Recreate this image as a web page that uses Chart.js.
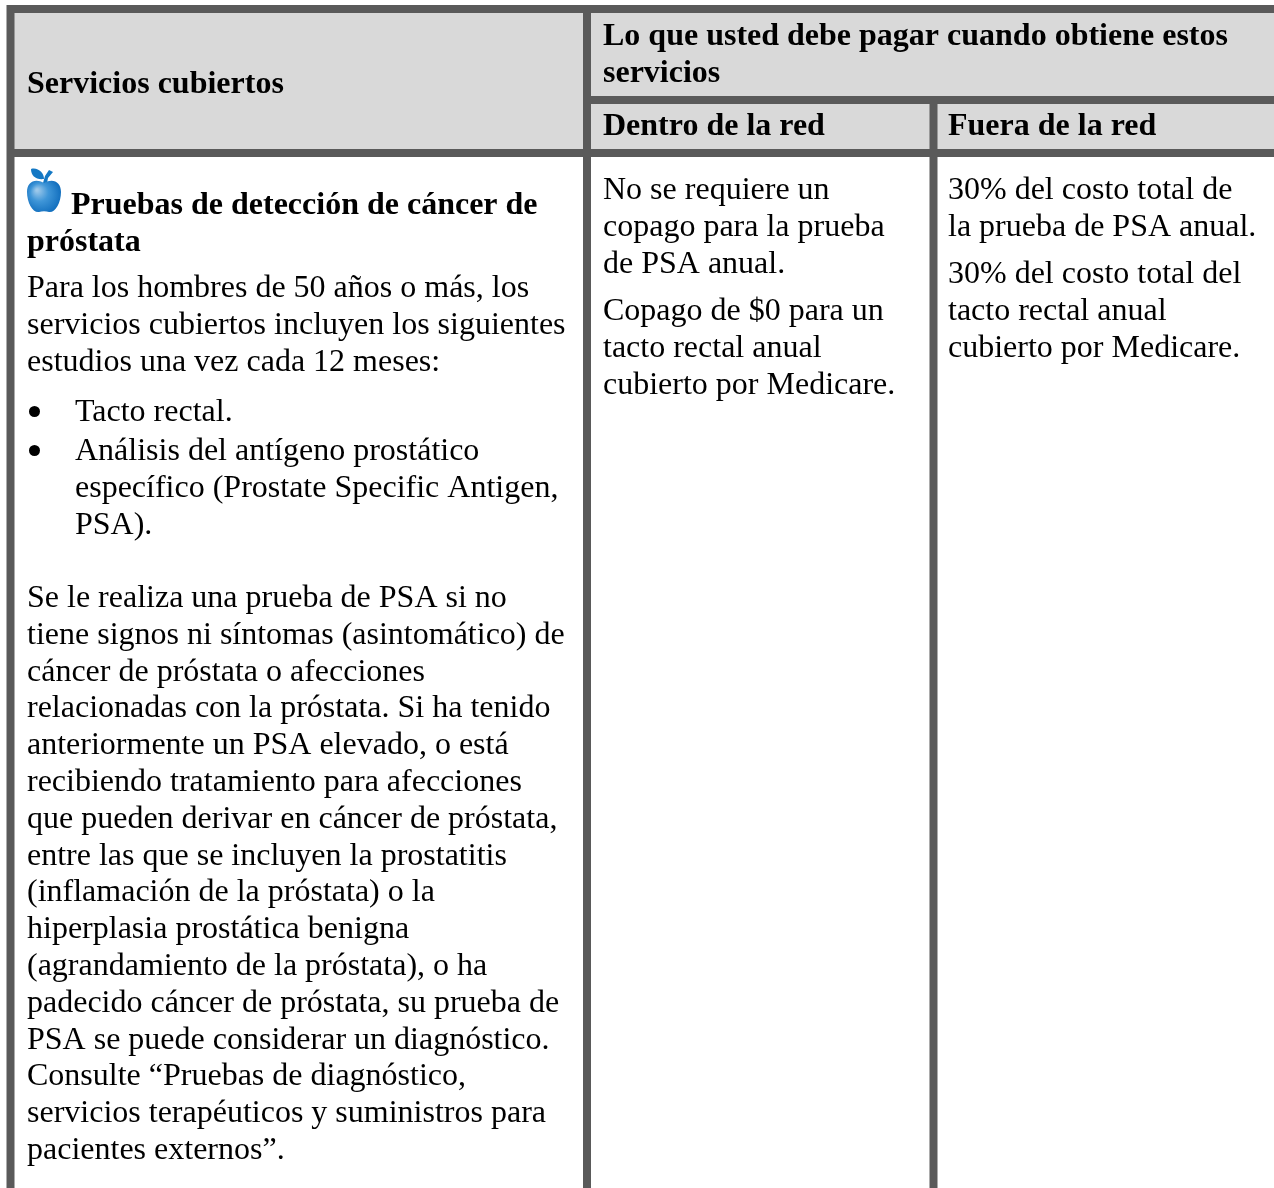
<!DOCTYPE html>
<html>
<head>
<meta charset="utf-8">
<style>
  html, body { margin: 0; padding: 0; background: #fff; }
  canvas { display: block; }
</style>
<script src="https://cdn.jsdelivr.net/npm/chart.js@4"></script>
</head>
<body>
<canvas id="chart" width="1274" height="1188"></canvas>
<script>
// table text, line by line
const headServices = ['Servicios cubiertos'];
const headPay = ['Lo que usted debe pagar cuando obtiene estos', 'servicios'];
const headIn = ['Dentro de la red'];
const headOut = ['Fuera de la red'];
const prostateTitle = ['Pruebas de detección de cáncer de'];
const prostateTitle2 = ['próstata'];
const intro = ['Para los hombres de 50 años o más, los', 'servicios cubiertos incluyen los siguientes', 'estudios una vez cada 12 meses:'];
const bullet1 = ['Tacto rectal.'];
const bullet2 = ['Análisis del antígeno prostático', 'específico (Prostate Specific Antigen,', 'PSA).'];
const psaText = [
  'Se le realiza una prueba de PSA si no',
  'tiene signos ni síntomas (asintomático) de',
  'cáncer de próstata o afecciones',
  'relacionadas con la próstata. Si ha tenido',
  'anteriormente un PSA elevado, o está',
  'recibiendo tratamiento para afecciones',
  'que pueden derivar en cáncer de próstata,',
  'entre las que se incluyen la prostatitis',
  '(inflamación de la próstata) o la',
  'hiperplasia prostática benigna',
  '(agrandamiento de la próstata), o ha',
  'padecido cáncer de próstata, su prueba de',
  'PSA se puede considerar un diagnóstico.',
  'Consulte “Pruebas de diagnóstico,',
  'servicios terapéuticos y suministros para',
  'pacientes externos”.'
];
const inNet1 = ['No se requiere un', 'copago para la prueba', 'de PSA anual.'];
const inNet2 = ['Copago de $0 para un', 'tacto rectal anual', 'cubierto por Medicare.'];
const outNet1 = ['30% del costo total de', 'la prueba de PSA anual.'];
const outNet2 = ['30% del costo total del', 'tacto rectal anual', 'cubierto por Medicare.'];

const W = 1274, H = 1188;
const grey = '#5a5a5a', headFill = '#d9d9d9';
const BORDER = 8;
const STEP = 36.8;
const SERIF = '"Liberation Serif"';

// [lines, left, first baseline, bold]
const blocks = [
  [headServices, 27, 93, true],
  [headPay, 603, 45, true],
  [headIn, 603, 135, true],
  [headOut, 948, 135, true],
  [prostateTitle, 71, 214, true],
  [prostateTitle2, 27, 251, true],
  [intro, 27, 297, false],
  [bullet1, 75, 421, false],
  [bullet2, 75, 460, false],
  [psaText, 27, 607, false],
  [inNet1, 603, 199, false],
  [inNet2, 603, 320, false],
  [outNet1, 948, 199, false],
  [outNet2, 948, 283, false]
];

function apple() {
  const c = document.createElement('canvas');
  c.width = 36; c.height = 46;
  const g = c.getContext('2d');
  g.fillStyle = '#1478c4';
  // leaf
  g.beginPath(); g.moveTo(5, 1); g.bezierCurveTo(12, -1, 18, 5, 18, 11); g.bezierCurveTo(10, 12, 5, 8, 5, 1); g.fill();
  // stem
  g.beginPath(); g.moveTo(17, 15); g.lineTo(19, 8); g.lineTo(23, 2); g.lineTo(27, 4); g.lineTo(22, 10); g.lineTo(21, 15); g.fill();
  // body
  const f = g.createRadialGradient(11, 22, 1, 17, 28, 21);
  f.addColorStop(0, '#9cc8ea'); f.addColorStop(0.4, '#3f96d8'); f.addColorStop(1, '#0866b8');
  g.fillStyle = f;
  g.beginPath();
  g.moveTo(18, 15);
  g.bezierCurveTo(9, 10, 1, 14, 1, 24);
  g.bezierCurveTo(1, 35, 7, 45, 13, 44);
  g.bezierCurveTo(16, 43, 20, 43, 23, 44);
  g.bezierCurveTo(29, 45, 35, 35, 35, 24);
  g.bezierCurveTo(35, 14, 27, 10, 18, 15);
  g.fill();
  return c;
}

function rule(x0, y0, x1, y1) {
  return {
    type: 'scatter', showLine: true, borderColor: grey, borderWidth: BORDER,
    borderCapStyle: 'butt', pointRadius: 0, order: 1,
    data: [{x: x0, y: y0}, {x: x1, y: y1}]
  };
}

const textPlugin = {
  id: 'tableText',
  afterDraw(chart) {
    const ctx = chart.ctx, sx = chart.scales.x, sy = chart.scales.y;
    ctx.save();
    ctx.fillStyle = '#000';
    ctx.textBaseline = 'alphabetic';
    blocks.forEach(([lines, x, y, bold]) => {
      ctx.font = (bold ? 'bold 32px ' : '32px ') + SERIF;
      lines.forEach((t, i) => ctx.fillText(t, sx.getPixelForValue(x), sy.getPixelForValue(y + i * STEP)));
    });
    ctx.restore();
  }
};

new Chart(document.getElementById('chart'), {
  type: 'scatter',
  data: {
    datasets: [
      // header shading
      { showLine: true, borderWidth: 0, pointRadius: 0, backgroundColor: headFill, order: 3,
        data: [{x: 14, y: 150}, {x: W, y: 150}], fill: {target: {value: 13}} },
      rule(7, 9, W, 9),
      rule(10.5, 5, 10.5, H),
      rule(587, 5, 587, H),
      rule(591, 100, W, 100),
      rule(933.5, 104, 933.5, H),
      rule(7, 153, W, 153),
      // bullets
      { pointRadius: 5.5, pointBackgroundColor: '#000', pointBorderWidth: 0, order: 0,
        data: [{x: 34.5, y: 411.5}, {x: 34.5, y: 450.5}] },
      // apple mark
      { pointStyle: apple(), order: 0, data: [{x: 44, y: 191}] }
    ]
  },
  options: {
    responsive: false,
    animation: false,
    layout: { padding: 0, autoPadding: false },
    plugins: { legend: { display: false }, tooltip: { enabled: false } },
    scales: {
      x: { type: 'linear', display: false, min: 0, max: W },
      y: { type: 'linear', display: false, min: 0, max: H, reverse: true }
    }
  },
  plugins: [textPlugin]
});
</script>
</body>
</html>
